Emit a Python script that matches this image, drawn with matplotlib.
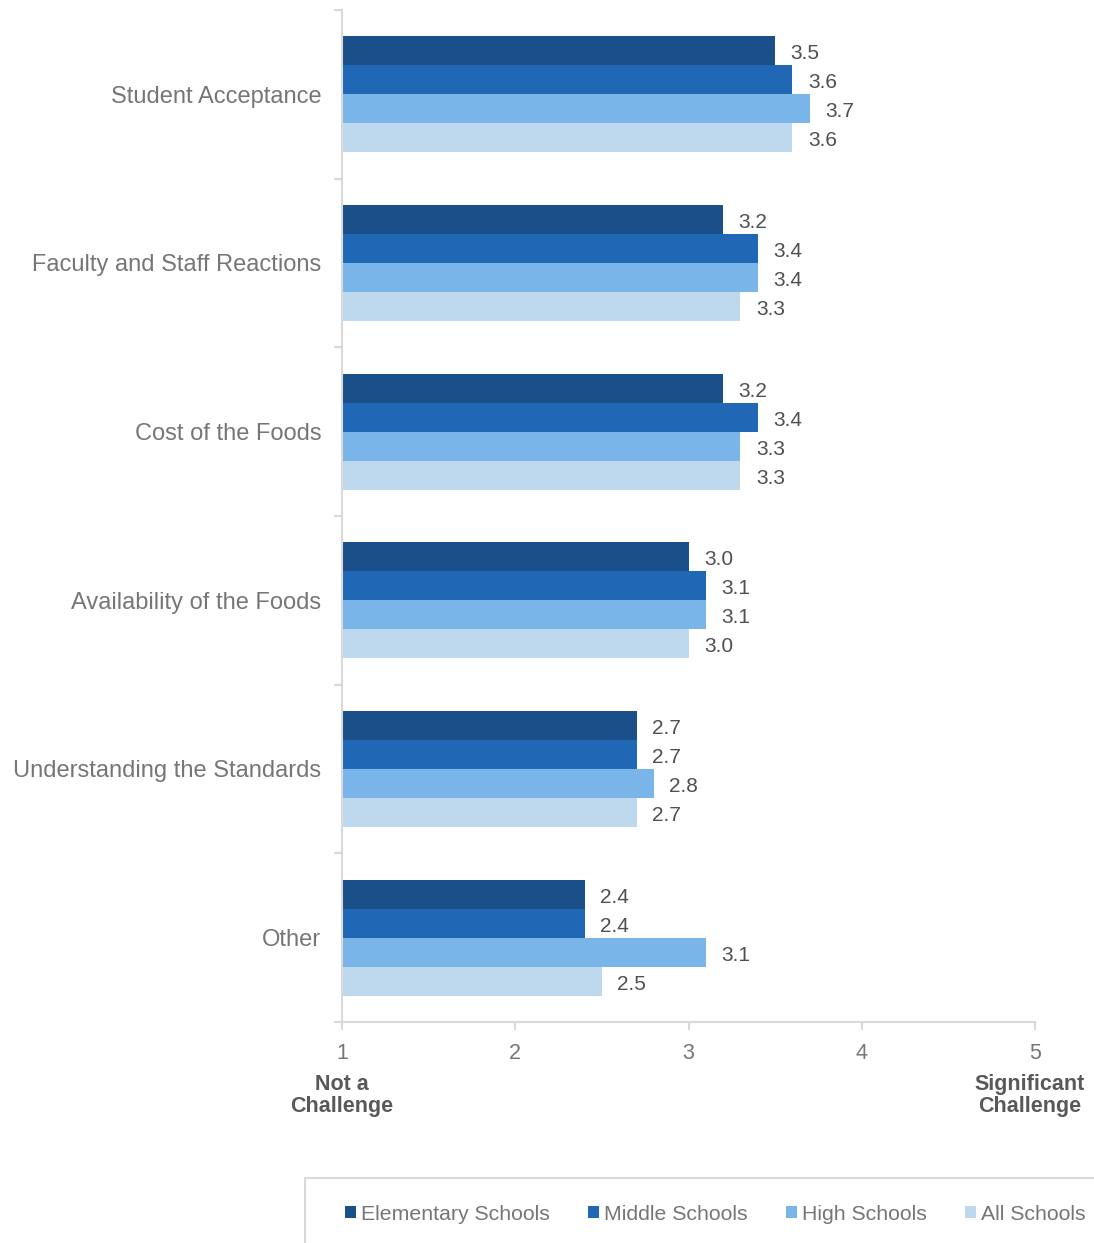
import numpy as np
import matplotlib
matplotlib.use("Agg")
import matplotlib.pyplot as plt
from matplotlib.patches import Rectangle, Patch

plt.rcParams['font.family'] = ['Liberation Sans', 'DejaVu Sans']

# survey data: mean challenge rating (1-5)
categories = ["Student Acceptance", "Faculty and Staff Reactions", "Cost of the Foods",
              "Availability of the Foods", "Understanding the Standards", "Other"]
series = ["Elementary Schools", "Middle Schools", "High Schools", "All Schools"]
elementary = [3.5, 3.2, 3.2, 3.0, 2.7, 2.4]
middle = [3.6, 3.4, 3.4, 3.1, 2.7, 2.4]
high = [3.7, 3.4, 3.3, 3.1, 2.8, 3.1]
all_schools = [3.6, 3.3, 3.3, 3.0, 2.7, 2.5]
colors = ["#1b4f8a", "#2068b6", "#7ab5ea", "#bed9ee"]

values = [elementary, middle, high, all_schools]
gray = "#767676"
dark_gray = "#595959"
axis_gray = "#d9d9d9"

fig = plt.figure(figsize=(10.94, 12.43), dpi=100)
ax = fig.add_axes([342 / 1094, 1 - 1022 / 1243, (1035 - 342) / 1094, (1022 - 10) / 1243])

y = np.arange(len(categories))
h = 0.172
for i, (name, vals, c) in enumerate(zip(series, values, colors)):
    pos = y + (i - 1.5) * h
    vals = np.array(vals)
    ax.barh(pos, vals - 1, left=1, height=h, color=c, linewidth=0, label=name)
    for p, v in zip(pos, vals):
        ax.text(v + 0.09, p + 0.018, f"{v:.1f}", va="center", ha="left", fontsize=15,
                color="#505050")

ax.set_xlim(1, 5)
ax.set_ylim(len(categories) - 0.5, -0.5)

for s in ["top", "right"]:
    ax.spines[s].set_visible(False)
for s in ["left", "bottom"]:
    ax.spines[s].set_color(axis_gray)
    ax.spines[s].set_linewidth(1.5)

ax.set_xticks([1, 2, 3, 4, 5])
ax.tick_params(axis="x", colors=axis_gray, length=6, width=1.5, labelcolor=gray,
               labelsize=15.5, pad=9)

ax.set_yticks(y)
ax.set_yticklabels(categories)
ax.set_yticks(np.arange(-0.5, len(categories), 1.0), minor=True)
ax.tick_params(axis="y", which="major", length=0, labelcolor=gray, labelsize=17, pad=15)
ax.tick_params(axis="y", which="minor", length=6, width=1.5, color=axis_gray)

# scale anchors under the axis
ax.text(1, -0.051, "Not a\nChallenge", transform=ax.get_xaxis_transform(), ha="center",
        va="top", fontsize=15.5, fontweight="bold", color=dark_gray, linespacing=1.1)
ax.text(4.97, -0.051, "Significant\nChallenge", transform=ax.get_xaxis_transform(),
        ha="center", va="top", fontsize=15.5, fontweight="bold", color=dark_gray, linespacing=1.1)

# legend box
fig.patches.append(Rectangle((305 / 1094, -0.01), 0.8, (1243 - 1178) / 1243 + 0.01,
                             transform=fig.transFigure, facecolor="none",
                             edgecolor=axis_gray, linewidth=1.5))
handles = [Patch(facecolor=c, edgecolor="none") for c in colors]
fig.legend(handles, series, loc="center", bbox_to_anchor=(715 / 1094, 1 - 1214 / 1243),
           ncol=4, frameon=False, fontsize=15.3, handlelength=0.52, handleheight=0.52,
           handletextpad=0.23, columnspacing=1.8, labelcolor=gray)

fig.savefig("out.png", dpi=100)
